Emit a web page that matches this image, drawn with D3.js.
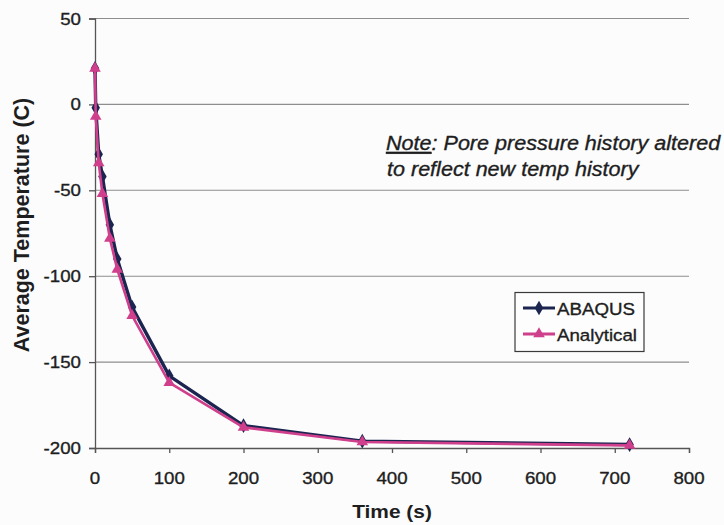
<!DOCTYPE html>
<html>
<head>
<meta charset="utf-8">
<script src="https://cdn.jsdelivr.net/npm/d3@7"></script>
<style>
  html, body { margin: 0; padding: 0; background: #fcfcfd; }
  svg { display: block; font-family: "Liberation Sans", Arial, sans-serif; }
</style>
</head>
<body>
<svg id="chart" width="724" height="525"></svg>
<script>
// Time (s) of each sample
const times = [0, 1, 5, 10, 20, 30, 50, 100, 200, 360, 720];
// Average temperature (C), finite element result
const abaqus = [21, -2, -29, -42, -70, -90, -118, -158, -187, -196, -198];
// Average temperature (C), closed-form solution
const analytical = [21, -7, -34, -52, -78, -96, -123, -162, -188, -196.5, -198.5];

const xTicks = [0, 100, 200, 300, 400, 500, 600, 700, 800];
const yTicks = [50, 0, -50, -100, -150, -200];
const seriesNames = ["ABAQUS", "Analytical"];

const svg = d3.select("#chart");
const stretch = 1.1; // glyphs are a little wider than the regular face
const ink = "#1e1e1e";

const x = d3.scaleLinear().domain([0, 800]).range([95, 689]);
const y = d3.scaleLinear().domain([-200, 50]).range([448, 18.5]);

const navy = "#1b2550";
const pink = "#cf3f8c";

// regular-weight text gets a hairline outline so it reads a touch heavier
function heavy(sel) {
  return sel.attr("fill", ink).attr("stroke", ink).attr("stroke-width", 0.35);
}

// horizontal gridlines
svg.append("g")
  .selectAll("line")
  .data(yTicks.filter(d => d !== -200))
  .join("line")
  .attr("x1", x(0)).attr("x2", x(800))
  .attr("y1", d => y(d)).attr("y2", d => y(d))
  .attr("stroke", "#8e8e8e").attr("stroke-width", 1.1);

// axes
const yAxis = d3.axisLeft(y).tickValues(yTicks).tickSize(6).tickFormat("");
const xAxis = d3.axisBottom(x).tickValues(xTicks).tickSize(5).tickFormat("");

const gy = svg.append("g").attr("transform", `translate(${x(0)},0)`).call(yAxis);
const gx = svg.append("g").attr("transform", `translate(0,${y(-200)})`).call(xAxis);
[gy, gx].forEach(g => {
  g.select(".domain").attr("stroke", "#555").attr("stroke-width", 1.3);
  g.selectAll(".tick line").attr("stroke", "#555").attr("stroke-width", 1.3);
});

// tick labels
heavy(svg.append("g").selectAll("text")
  .data(yTicks).join("text")
  .attr("transform", d => `translate(81,${y(d) + 6}) scale(${stretch},1)`)
  .attr("text-anchor", "end")
  .attr("font-size", 17)
  .text(d => d));

heavy(svg.append("g").selectAll("text")
  .data(xTicks).join("text")
  .attr("transform", d => `translate(${x(d)},484) scale(${stretch},1)`)
  .attr("text-anchor", "middle")
  .attr("font-size", 17)
  .text(d => d));

// axis titles
svg.append("text")
  .attr("transform", "translate(29,225) rotate(-90)")
  .attr("text-anchor", "middle")
  .attr("font-size", 21.5)
  .attr("font-weight", "bold")
  .attr("fill", ink)
  .text("Average Temperature (C)");

svg.append("text")
  .attr("transform", `translate(392,518) scale(${stretch},1)`)
  .attr("text-anchor", "middle")
  .attr("font-size", 19)
  .attr("font-weight", "bold")
  .attr("fill", ink)
  .text("Time (s)");

// series
const line = d3.line().x(d => x(d[0])).y(d => y(d[1]));
const abaqusPts = times.map((t, i) => [t, abaqus[i]]);
const analyticalPts = times.map((t, i) => [t, analytical[i]]);

const diamond = d3.symbol().type(d3.symbolDiamond).size(62);
const triangle = d3.symbol().type(d3.symbolTriangle).size(58);

svg.append("path")
  .attr("d", line(abaqusPts))
  .attr("fill", "none").attr("stroke", navy).attr("stroke-width", 3.4)
  .attr("stroke-linejoin", "round");
svg.append("g").selectAll("path")
  .data(abaqusPts).join("path")
  .attr("transform", d => `translate(${x(d[0])},${y(d[1])})`)
  .attr("d", diamond)
  .attr("fill", navy);

svg.append("path")
  .attr("d", line(analyticalPts))
  .attr("fill", "none").attr("stroke", pink).attr("stroke-width", 2.6)
  .attr("stroke-linejoin", "round");
svg.append("g").selectAll("path")
  .data(analyticalPts).join("path")
  .attr("transform", d => `translate(${x(d[0])},${y(d[1])})`)
  .attr("d", triangle)
  .attr("fill", pink);

// note
const note = heavy(svg.append("g").attr("font-size", 19.6).attr("font-style", "italic"));
const l1 = note.append("text")
  .attr("transform", `translate(386,150) scale(${stretch},1)`);
l1.append("tspan").attr("text-decoration", "underline").text("Note");
l1.append("tspan").text(": Pore pressure history altered");
note.append("text")
  .attr("transform", `translate(387,176) scale(${stretch},1)`)
  .text("to reflect new temp history");

// legend
const legend = svg.append("g");
legend.append("rect")
  .attr("x", 515).attr("y", 292.5).attr("width", 129).attr("height", 59)
  .attr("fill", "#fdfdfd").attr("stroke", "#3a3a3a").attr("stroke-width", 1.2);
const rows = [
  { name: seriesNames[0], color: navy, sym: diamond, yy: 308 },
  { name: seriesNames[1], color: pink, sym: triangle, yy: 334 }
];
rows.forEach(r => {
  legend.append("line")
    .attr("x1", 523).attr("x2", 555).attr("y1", r.yy).attr("y2", r.yy)
    .attr("stroke", r.color).attr("stroke-width", 3);
  legend.append("path")
    .attr("transform", `translate(539,${r.yy})`)
    .attr("d", r.sym).attr("fill", r.color);
  heavy(legend.append("text")
    .attr("transform", `translate(557,${r.yy + 6.5}) scale(${stretch},1)`)
    .attr("font-size", 17)
    .text(r.name));
});
</script>
</body>
</html>
